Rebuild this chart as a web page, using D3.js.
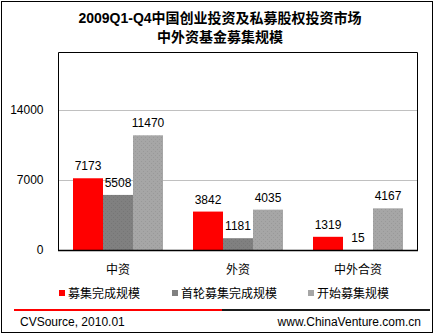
<!DOCTYPE html>
<html>
<head>
<meta charset="utf-8">
<script src="https://cdn.jsdelivr.net/npm/d3@7"></script>
<style>
  html, body { margin: 0; padding: 0; background: #fff; }
  svg text { font-family: "Liberation Sans", Arial, "Noto Sans CJK SC", sans-serif; }
</style>
</head>
<body>
<svg id="chart" width="435" height="335"></svg>
<script>
// Fund-raising scale by capital source, 2009 Q1-Q4 (unit: US$M)
const titleLines = ["2009Q1-Q4中国创业投资及私募股权投资市场", "中外资基金募集规模"];
const categories = ["中资", "外资", "中外合资"];
const seriesNames = ["募集完成规模", "首轮募集完成规模", "开始募集规模"];
const completed = [7173, 3842, 1319];
const firstClose = [5508, 1181, 15];
const launched = [11470, 4035, 4167];
const yTicks = [0, 7000, 14000];
const sourceText = "CVSource, 2010.01";
const siteText = "www.ChinaVenture.com.cn";

const colors = ["#ff0000", "#808080", "#a6a6a6"];
const seriesValues = [completed, firstClose, launched];

const svg = d3.select("#chart");
const W = 435, H = 335;

// texture patterns for the grey bars
const defs = svg.append("defs");
[["dotDark", "#808080", "#767676"], ["dotLight", "#a6a6a6", "#999999"]].forEach(([id, base, dot]) => {
  const p = defs.append("pattern").attr("id", id).attr("patternUnits", "userSpaceOnUse")
    .attr("width", 4).attr("height", 4);
  p.append("rect").attr("width", 4).attr("height", 4).attr("fill", base);
  p.append("rect").attr("x", 1).attr("y", 1).attr("width", 1).attr("height", 1).attr("fill", dot);
  p.append("rect").attr("x", 3).attr("y", 3).attr("width", 1).attr("height", 1).attr("fill", dot);
});
const fills = ["#ff0000", "url(#dotDark)", "url(#dotLight)"];

// outer frame
svg.append("rect").attr("x", 1.5).attr("y", 1.5).attr("width", W - 4).attr("height", H - 4)
  .attr("fill", "none").attr("stroke", "#000").attr("stroke-width", 1);

// title
svg.selectAll("text.title").data(titleLines).join("text")
  .attr("class", "title")
  .attr("x", 220).attr("y", (d, i) => 23 + i * 19)
  .attr("text-anchor", "middle")
  .attr("font-size", 14).attr("font-weight", "bold")
  .attr("fill", "#000")
  .text(d => d);

// scales
const plotLeft = 58, plotRight = 418, plotBottom = 250, plotTop = 52;
const x = d3.scaleBand().domain(categories).range([plotLeft, plotRight]).paddingInner(0.25).paddingOuter(0.125);
const xs = d3.scaleBand().domain(d3.range(seriesNames.length)).range([0, x.bandwidth()]);
const y = d3.scaleLinear().domain([0, 19800]).range([plotBottom, plotTop]);

// gridlines
svg.append("g").selectAll("line").data(yTicks.filter(d => d > 0)).join("line")
  .attr("x1", plotLeft).attr("x2", plotRight)
  .attr("y1", d => Math.round(y(d)) + 0.5).attr("y2", d => Math.round(y(d)) + 0.5)
  .attr("stroke", "#c0c0c0").attr("stroke-width", 1);

// y axis
const yAxis = d3.axisLeft(y).tickValues(yTicks).tickSize(0).tickPadding(15).tickFormat(d3.format("d"));
const ya = svg.append("g").attr("transform", `translate(${plotLeft + 0.5},0)`).call(yAxis);
ya.select(".domain").remove();
ya.selectAll("text").attr("font-size", 12).attr("fill", "#000")
  .style("font-family", '"Liberation Sans", Arial, sans-serif');

// bars
seriesValues.forEach((vals, si) => {
  const g = svg.append("g");
  g.selectAll("rect").data(vals).join("rect")
    .attr("x", (d, i) => x(categories[i]) + xs(si))
    .attr("y", d => y(d))
    .attr("width", xs.bandwidth())
    .attr("height", d => plotBottom - y(d))
    .attr("fill", fills[si]);
  g.selectAll("text").data(vals).join("text")
    .attr("x", (d, i) => x(categories[i]) + xs(si) + xs.bandwidth() / 2)
    .attr("y", d => y(d) - 8)
    .attr("text-anchor", "middle")
    .attr("font-size", 12).attr("fill", "#000")
    .text(d => d);
});

// plot frame (top, right, left) and x axis
svg.append("path")
  .attr("d", `M${plotLeft + 0.5},${plotBottom}V${plotTop + 0.5}H${plotRight - 0.5}V${plotBottom}`)
  .attr("fill", "none").attr("stroke", "#000");
svg.append("line").attr("x1", plotLeft).attr("x2", plotRight)
  .attr("y1", plotBottom + 0.5).attr("y2", plotBottom + 0.5)
  .attr("stroke", "#000").attr("stroke-width", 1.5);

// category labels
svg.append("g").selectAll("text").data(categories).join("text")
  .attr("x", d => x(d) + x.bandwidth() / 2)
  .attr("y", 274)
  .attr("text-anchor", "middle")
  .attr("font-size", 12).attr("fill", "#000")
  .text(d => d);

// legend
const legendX = [59, 172, 308];
const lg = svg.append("g").selectAll("g").data(seriesNames).join("g")
  .attr("transform", (d, i) => `translate(${legendX[i]},290)`);
lg.append("rect").attr("width", 6).attr("height", 6).attr("fill", (d, i) => colors[i]);
lg.append("text").attr("x", 9).attr("y", 7.5)
  .attr("font-size", 12).attr("fill", "#000").text(d => d);

// footer rule
svg.append("rect").attr("x", 14).attr("y", 309).attr("width", 208).attr("height", 2).attr("fill", "#ff0000");
svg.append("rect").attr("x", 222).attr("y", 309).attr("width", 208).attr("height", 2).attr("fill", "#1a1a1a");

// footer text
svg.append("text").attr("x", 20).attr("y", 326).attr("font-size", 12).attr("fill", "#000").text(sourceText);
svg.append("text").attr("x", 421).attr("y", 326).attr("text-anchor", "end")
  .attr("font-size", 12).attr("fill", "#000").text(siteText);
</script>
</body>
</html>
